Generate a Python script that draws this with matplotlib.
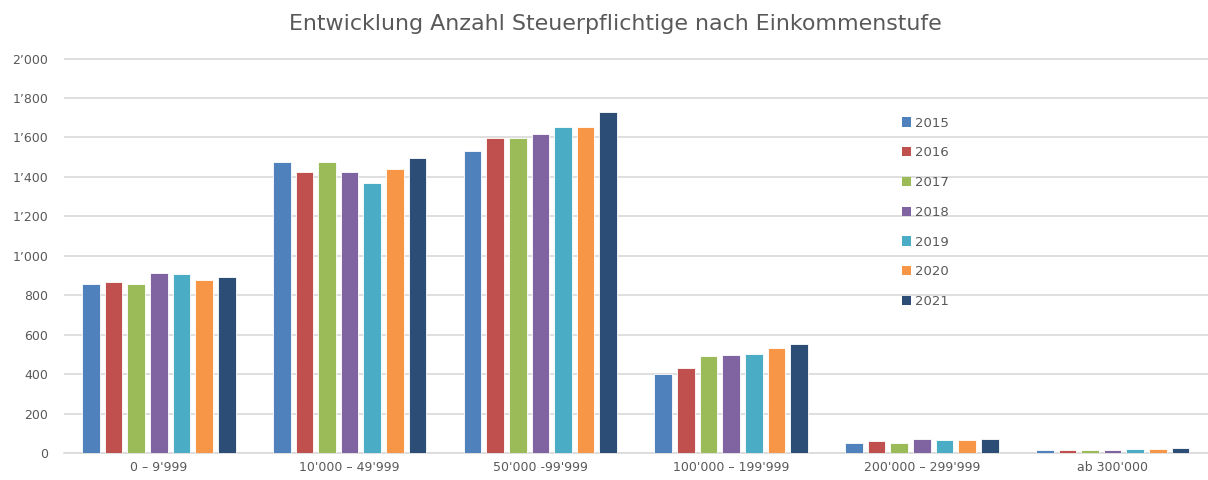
import matplotlib

matplotlib.use("Agg")

import matplotlib.pyplot as plt
import numpy as np
from matplotlib.patches import Patch
from matplotlib.ticker import FuncFormatter

categories = ["0 – 9'999", "10'000 – 49'999", "50'000 -99'999",
              "100'000 – 199'999", "200'000 – 299'999", "ab 300'000"]
years = ["2015", "2016", "2017", "2018", "2019", "2020", "2021"]

# one list per year, one value per income bracket
values = {
    "2015": [859, 1474, 1533, 400, 50, 16],
    "2016": [865, 1423, 1595, 430, 61, 16],
    "2017": [859, 1474, 1595, 492, 50, 16],
    "2018": [914, 1423, 1620, 497, 73, 17],
    "2019": [909, 1370, 1652, 502, 68, 22],
    "2020": [875, 1441, 1652, 530, 68, 21],
    "2021": [894, 1496, 1730, 552, 73, 23],
}
colors = ["#4F81BD", "#C0504D", "#9BBB59", "#8064A2", "#4BACC6", "#F79646", "#2C4D75"]

TEXT = "#595959"
GRID = "#D9D9D9"

fig = plt.figure(figsize=(12.08, 4.8), dpi=100)
ax = fig.add_axes([63.5 / 1208, 1 - 453 / 480, (1208 - 63.5) / 1208, (453 - 58) / 480])

x = np.arange(len(categories))
group_w = 0.83
slot = group_w / len(years)
for i, (year, color) in enumerate(zip(years, colors)):
    offs = -group_w / 2 + slot * (i + 0.5)
    ax.bar(x + offs, values[year], width=slot * 0.78, color=color,
           edgecolor="white", linewidth=0.6, zorder=3)

ax.set_xlim(-0.5, len(categories) - 0.5)
ax.set_ylim(0, 2003)
ax.set_yticks(np.arange(0, 2001, 200))
ax.yaxis.set_major_formatter(FuncFormatter(lambda v, _: f"{int(v):,}".replace(",", "’")))
ax.set_xticks(x)
ax.set_xticklabels(categories)
ax.grid(axis="y", color=GRID, linewidth=1.2, zorder=0)
ax.tick_params(axis="both", length=0, labelsize=9, labelcolor=TEXT)
ax.tick_params(axis="y", pad=11)
ax.tick_params(axis="x", pad=6)
for side in ("top", "right", "left"):
    ax.spines[side].set_visible(False)
ax.spines["bottom"].set_color(GRID)
ax.spines["bottom"].set_linewidth(1.2)

fig.text(615 / 1208, 1 - 24 / 480, "Entwicklung Anzahl Steuerpflichtige nach Einkommenstufe",
         ha="center", va="center", fontsize=15.9, color=TEXT)

handles = [Patch(facecolor=c, edgecolor="none") for c in colors]
fig.legend(handles, years, loc="upper left", bbox_to_anchor=(895 / 1208, 1 - 110 / 480),
           frameon=False, fontsize=9.5, labelcolor=TEXT, handlelength=0.7,
           handleheight=0.7, handletextpad=0.3, labelspacing=1.27, borderpad=0)

fig.savefig("out.png", dpi=100)
plt.close(fig)
